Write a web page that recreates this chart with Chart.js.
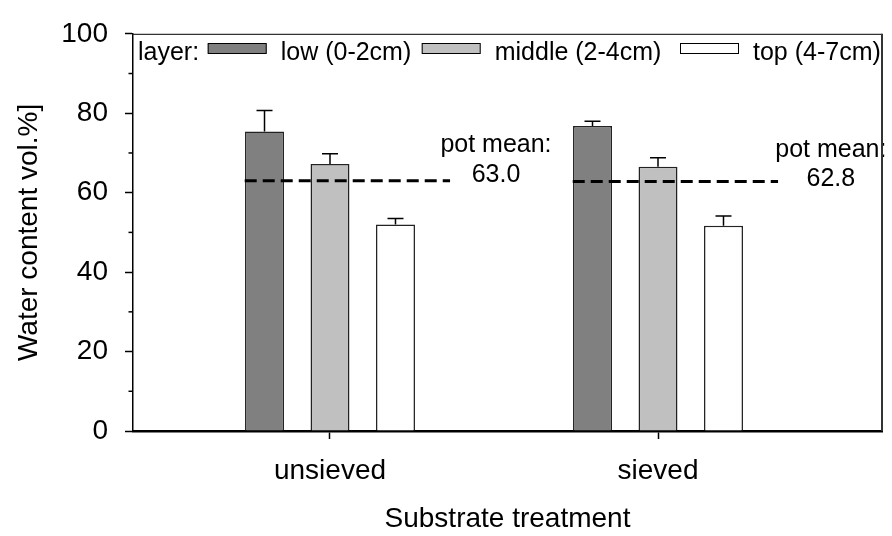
<!DOCTYPE html>
<html>
<head>
<meta charset="utf-8">
<title>Water content by layer</title>
<script src="https://cdn.jsdelivr.net/npm/chart.js@4.4.1/dist/chart.umd.min.js"></script>
<style>
  html, body { margin: 0; padding: 0; background: #fff; }
  #wrap { width: 892px; height: 536px; }
</style>
</head>
<body>
<div id="wrap"><canvas id="waterChart" width="892" height="536"></canvas></div>
<script>
// treatments on the x axis, one bar per soil layer
const treatments = ['unsieved', 'sieved'];
const layerNames = ['low (0-2cm)', 'middle (2-4cm)', 'top (4-7cm)'];

// mean water content (vol.%) and upper error per layer
const lowMean = [75.4, 76.8];
const lowErr = [5.3, 1.2];
const middleMean = [67.2, 66.5];
const middleErr = [2.6, 2.3];
const topMean = [52.0, 51.7];
const topErr = [1.5, 2.4];

// depth-weighted pot mean per treatment
const potMean = [63.0, 62.8];

const yMajorTicks = [0, 20, 40, 60, 80, 100];
const yMinorTicks = [10, 30, 50, 70, 90];

const FONT = "'Liberation Sans', Arial, sans-serif";
const layerColors = ['#808080', '#c0c0c0', '#ffffff'];

// dashed pot-mean line runs from the low bar to the right of the group
const meanLineFrom = -0.26;
const meanLineTo = 0.366;

const barSets = [lowMean, middleMean, topMean].map((vals, k) => ({
  type: 'bar',
  label: layerNames[k],
  data: vals.map((v, i) => ({ x: i, y: v })),
  errors: [lowErr, middleErr, topErr][k],
  backgroundColor: layerColors[k],
  borderColor: '#222',
  borderWidth: 1.5,
  categoryPercentage: 0.599,
  barPercentage: 0.595,
  order: 2
}));

const meanSets = potMean.map((m, i) => ({
  type: 'line',
  label: 'pot mean ' + treatments[i],
  data: [{ x: i + meanLineFrom, y: m }, { x: i + meanLineTo, y: m }],
  borderColor: '#000',
  borderWidth: 3,
  borderDash: [12, 6],
  pointRadius: 0,
  fill: false,
  order: 1
}));

// upward error whiskers with caps
const errorBars = {
  id: 'errorBars',
  afterDatasetsDraw(chart) {
    const ctx = chart.ctx;
    const y = chart.scales.y;
    ctx.save();
    ctx.strokeStyle = '#000';
    ctx.lineWidth = 1.5;
    chart.data.datasets.forEach((ds, di) => {
      if (!ds.errors) return;
      chart.getDatasetMeta(di).data.forEach((bar, i) => {
        const top = y.getPixelForValue(ds.data[i].y + ds.errors[i]);
        ctx.beginPath();
        ctx.moveTo(bar.x, bar.y);
        ctx.lineTo(bar.x, top);
        ctx.moveTo(bar.x - 8, top);
        ctx.lineTo(bar.x + 8, top);
        ctx.stroke();
      });
    });
    ctx.restore();
  }
};

// pot mean captions next to the dashed lines
const meanLabelDx = [0.506, 0.527];
const meanLabelY = [[70.2, 62.8], [69.0, 61.7]];
const meanLabels = {
  id: 'meanLabels',
  afterDatasetsDraw(chart) {
    const ctx = chart.ctx;
    const { x, y } = chart.scales;
    ctx.save();
    ctx.font = '25px ' + FONT;
    ctx.fillStyle = '#000';
    ctx.textAlign = 'center';
    ctx.textBaseline = 'alphabetic';
    potMean.forEach((m, i) => {
      const px = x.getPixelForValue(i + meanLabelDx[i]);
      ctx.fillText('pot mean:', px, y.getPixelForValue(meanLabelY[i][0]));
      ctx.fillText(m.toFixed(1), px, y.getPixelForValue(meanLabelY[i][1]));
    });
    ctx.restore();
  }
};

// legend row inside the plot: "layer:" then swatch + name
const legendBoxX = [207.7, 421.7, 680];
const layerLegend = {
  id: 'layerLegend',
  afterDraw(chart) {
    const ctx = chart.ctx;
    ctx.save();
    ctx.font = '25px ' + FONT;
    ctx.fillStyle = '#000';
    ctx.textBaseline = 'alphabetic';
    ctx.fillText('layer:', 138, 60);
    barSets.forEach((ds, k) => {
      const bx = legendBoxX[k];
      ctx.fillStyle = ds.backgroundColor;
      ctx.fillRect(bx, 43.5, 59, 10);
      ctx.strokeStyle = '#000';
      ctx.lineWidth = 1;
      ctx.strokeRect(bx + 0.5, 43.5, 58, 10);
      ctx.fillStyle = '#000';
      ctx.fillText(ds.label, bx + 73, 60);
    });
    ctx.restore();
  }
};

// top/right frame lines and the short minor y ticks
const frame = {
  id: 'frame',
  afterDraw(chart) {
    const ctx = chart.ctx;
    const a = chart.chartArea;
    const y = chart.scales.y;
    ctx.save();
    ctx.strokeStyle = '#333';
    ctx.lineWidth = 1.2;
    ctx.beginPath();
    ctx.moveTo(a.left, a.top + 0.5);
    ctx.lineTo(a.right, a.top + 0.5);
    ctx.stroke();
    ctx.lineWidth = 2;
    ctx.beginPath();
    ctx.moveTo(a.right, a.top);
    ctx.lineTo(a.right, a.bottom);
    ctx.stroke();
    ctx.strokeStyle = '#000';
    ctx.lineWidth = 1.5;
    yMinorTicks.forEach(v => {
      const py = y.getPixelForValue(v);
      ctx.beginPath();
      ctx.moveTo(a.left - 4.5, py);
      ctx.lineTo(a.left, py);
      ctx.stroke();
    });
    ctx.restore();
  }
};

new Chart(document.getElementById('waterChart'), {
  type: 'bar',
  data: { datasets: [...barSets, ...meanSets] },
  options: {
    responsive: false,
    devicePixelRatio: 1,
    animation: false,
    layout: { padding: { top: 25, right: 10, left: 0, bottom: 0 } },
    plugins: {
      legend: { display: false },
      tooltip: { enabled: false }
    },
    scales: {
      x: {
        type: 'linear',
        min: -0.6006,
        max: 1.6829,
        offset: false,
        afterBuildTicks: scale => { scale.ticks = treatments.map((_, i) => ({ value: i })); },
        afterFit: scale => { scale.height = 105; },
        ticks: {
          callback: v => treatments[v] ?? '',
          font: { family: FONT, size: 28 },
          color: '#000',
          padding: 15,
          maxRotation: 0,
          autoSkip: false
        },
        grid: {
          offset: false,
          drawOnChartArea: false,
          drawTicks: true,
          tickLength: 8,
          tickWidth: 1.5,
          tickColor: '#000'
        },
        border: { display: true, color: '#000', width: 2.5 },
        title: {
          display: true,
          text: 'Substrate treatment',
          font: { family: FONT, size: 28 },
          color: '#000',
          padding: { top: 0, bottom: 0 }
        }
      },
      y: {
        min: 0,
        max: 100,
        afterBuildTicks: scale => { scale.ticks = yMajorTicks.map(v => ({ value: v })); },
        afterFit: scale => { scale.width = 133; },
        ticks: {
          font: { family: FONT, size: 28 },
          color: '#000',
          padding: 17
        },
        grid: {
          drawOnChartArea: false,
          drawTicks: true,
          tickLength: 8,
          tickWidth: 1.5,
          tickColor: '#000'
        },
        border: { display: true, color: '#000', width: 1.5 },
        title: {
          display: true,
          text: 'Water content vol.%]',
          font: { family: FONT, size: 28 },
          color: '#000',
          padding: { top: 12, bottom: 0 }
        }
      }
    }
  },
  plugins: [errorBars, meanLabels, layerLegend, frame]
});
</script>
</body>
</html>
